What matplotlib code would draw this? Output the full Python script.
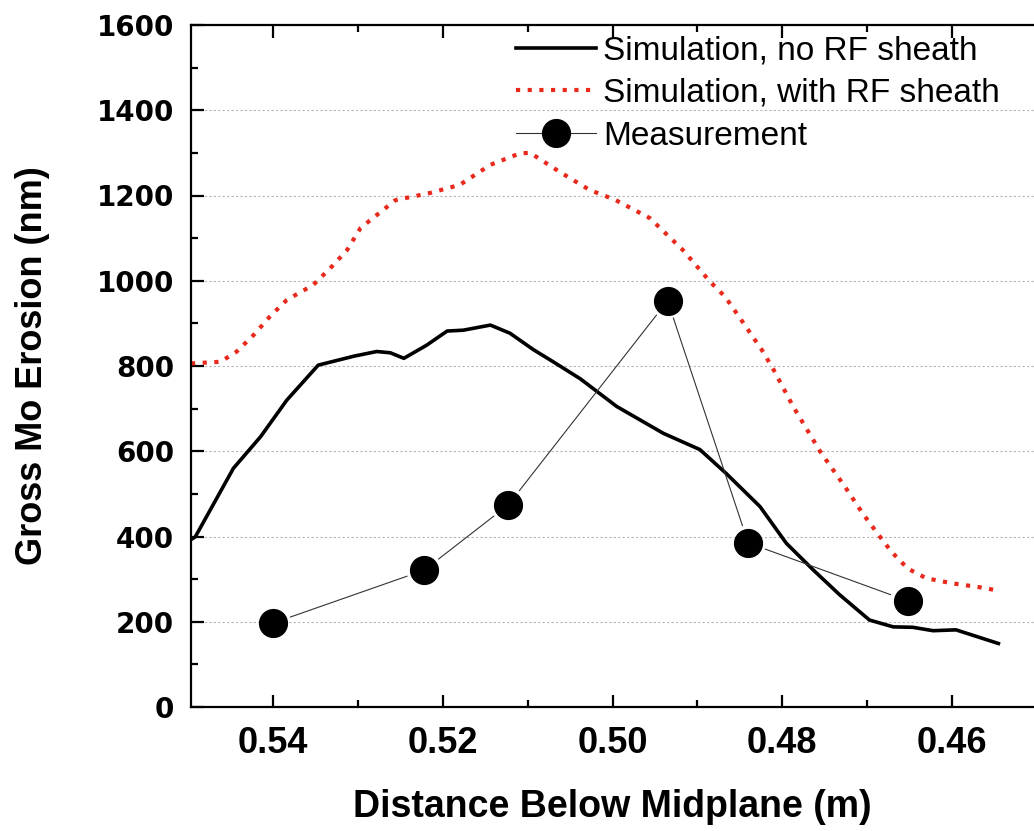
import matplotlib.pyplot as plt
from matplotlib.ticker import MultipleLocator

# simulation, no RF sheath
x_norf = [0.5497, 0.5492, 0.5447, 0.5415, 0.5384, 0.5347, 0.5305, 0.5278, 0.5262,
          0.5246, 0.5219, 0.5195, 0.5176, 0.5144, 0.5121, 0.5093, 0.5070, 0.5038,
          0.4995, 0.4940, 0.4897, 0.4866, 0.4826, 0.4795, 0.4763, 0.4732, 0.4697,
          0.4669, 0.4646, 0.4622, 0.4595, 0.4545]
y_norf = [393, 399, 560, 634, 720, 802, 823, 834, 831,
          818, 849, 882, 884, 896, 877, 838, 810, 770,
          705, 642, 604, 548, 470, 384, 321, 263, 204,
          188, 187, 179, 181, 149]

# simulation, with RF sheath
x_rf = [0.5497, 0.5462, 0.5443, 0.5423, 0.5404, 0.5384, 0.5353, 0.5333, 0.5313,
        0.5297, 0.5256, 0.5215, 0.5180, 0.5144, 0.5109, 0.5097, 0.5062, 0.5027,
        0.4997, 0.4956, 0.4917, 0.4885, 0.4867, 0.4844, 0.4824, 0.4810, 0.4787,
        0.4755, 0.4726, 0.4705, 0.4689, 0.4671, 0.4652, 0.4630, 0.4599, 0.4567,
        0.4545]
y_rf = [806, 810, 834, 873, 916, 955, 990, 1029, 1072,
        1124, 1189, 1206, 1225, 1272, 1299, 1300, 1255, 1213,
        1190, 1147, 1072, 998, 962, 896, 838, 791, 705,
        599, 517, 454, 411, 364, 325, 302, 290, 281,
        273]

# measurement
x_meas = [0.5400, 0.5222, 0.5123, 0.4935, 0.4840, 0.4652]
y_meas = [197, 321, 474, 953, 385, 249]

fig = plt.figure(figsize=(10.34, 8.31), dpi=100)
ax = fig.add_axes([191/1034, 124/831, 843/1034, 682/831])

ax.plot(x_norf, y_norf, color='black', lw=2.6, solid_joinstyle='round',
        label='Simulation, no RF sheath')
ax.plot(x_rf, y_rf, color='#e8291c', lw=3, linestyle=(0, (1, 1.8)),
        label='Simulation, with RF sheath')

# measurement: thin connecting lines that stop short of the markers
for i in range(len(x_meas) - 1):
    ax.annotate('', xy=(x_meas[i+1], y_meas[i+1]), xytext=(x_meas[i], y_meas[i]),
                arrowprops=dict(arrowstyle='-', color='#333333', lw=0.8,
                                shrinkA=13, shrinkB=13))
ax.plot(x_meas, y_meas, 'o', color='black', ms=20, zorder=5)
meas_handle = plt.Line2D([], [], color='#333333', lw=0.8, marker='o', ms=20,
                         mfc='black', mec='black')

ax.set_xlim(0.5497, 0.4503)
ax.set_ylim(0, 1600)
ax.xaxis.set_major_locator(MultipleLocator(0.02))
ax.xaxis.set_minor_locator(MultipleLocator(0.01))
ax.yaxis.set_major_locator(MultipleLocator(200))
ax.yaxis.set_minor_locator(MultipleLocator(100))
ax.xaxis.set_major_formatter(plt.FuncFormatter(lambda v, p: '%.2f' % v))

ax.grid(axis='y', linestyle=(0, (2, 2)), color='#b5b5b5', lw=0.8)
ax.set_axisbelow(True)

ax.tick_params(which='both', direction='in', top=True, right=False, width=1.6)
ax.tick_params(which='major', length=9)
ax.tick_params(which='minor', length=5)
ax.tick_params(axis='x', which='major', pad=14)
ax.tick_params(axis='y', which='major', pad=12)
for lab in ax.get_xticklabels():
    lab.set_fontfamily('Liberation Sans')
    lab.set_fontweight('bold')
    lab.set_fontsize(26)
for lab in ax.get_yticklabels():
    lab.set_fontfamily('DejaVu Sans')
    lab.set_fontweight('bold')
    lab.set_fontsize(20)

for s in ['left', 'bottom', 'top']:
    ax.spines[s].set_linewidth(1.6)
ax.spines['right'].set_visible(False)

ax.set_xlabel('Distance Below Midplane (m)', fontfamily='Liberation Sans',
              fontweight='bold', fontsize=27, labelpad=20)
ax.set_ylabel('Gross Mo Erosion (nm)', fontfamily='Liberation Sans',
              fontweight='bold', fontsize=26, labelpad=34)

h, l = ax.get_legend_handles_labels()
h.append(meas_handle)
l.append('Measurement')
fig.legend(h, l, loc='upper left', bbox_to_anchor=(503/1034, 1 - 22/831),
           frameon=False, prop={'family': 'Liberation Sans', 'size': 24},
           handlelength=2.4, handletextpad=0.2, labelspacing=0.35,
           borderaxespad=0)

fig.savefig('out.png', dpi=100)
